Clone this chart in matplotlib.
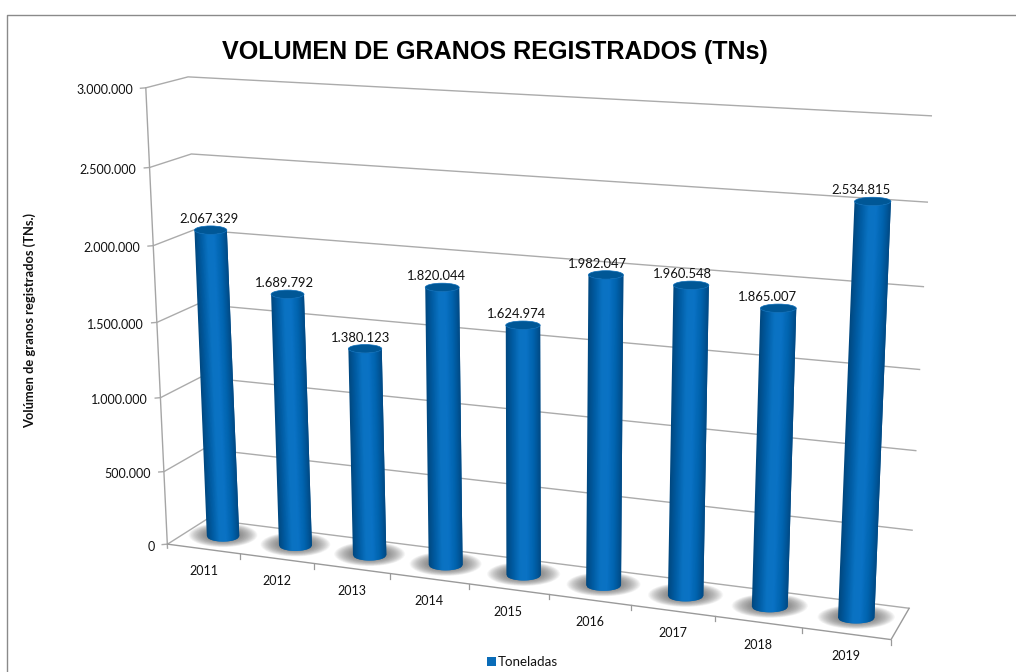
#!/usr/bin/env python3
import numpy as np
import matplotlib
matplotlib.use("Agg")
import matplotlib.pyplot as plt
from matplotlib.collections import PolyCollection
from matplotlib.colors import LinearSegmentedColormap
from matplotlib.patches import Ellipse, Rectangle

YEARS = ["2011", "2012", "2013", "2014", "2015", "2016", "2017", "2018", "2019"]
TONS = [2067329, 1689792, 1380123, 1820044, 1624974, 1982047, 1960548, 1865007, 2534815]
Y_TICKS = [0, 500000, 1000000, 1500000, 2000000, 2500000, 3000000]
Y_MAX = 3000000

BODY_CMAP = LinearSegmentedColormap.from_list(
    "cyl", ["#00477f", "#005ca3", "#0a72c2", "#0a72c4", "#0063ae", "#004a85"]
)


def _fit_projection():
    # calibration of the 3D box: (u along years, v depth, w value) -> picture pixels
    front_left = [(168, 544), (164, 472), (160, 398), (157, 321), (153, 245), (150, 167), (146, 89)]
    back_left = [(207, 519), (204, 449), (201, 378), (198, 304), (194, 229), (191, 154), (188, 77)]
    back_right = [(909, 608), (913, 530), (917, 451), (920, 369), (923, 286), (928, 203), (933, 116)]
    world, pix = [], []
    for k in range(7):
        world += [(0, 0, k / 6), (0, 1, k / 6), (1, 1, k / 6)]
        pix += [front_left[k], back_left[k], back_right[k]]
    world.append((1, 0, 0))
    pix.append((891, 640))
    for k, p in zip([1, 2, 3, 4], [(240, 554), (314, 563), (391, 574), (468, 584)]):
        world.append((k / 9, 0, 0))
        pix.append(p)
    rows, rhs = [], []
    for (u, v, w), (x, y) in zip(world, pix):
        rows.append([u, v, w, 1, 0, 0, 0, 0, -x * u, -x * v, -x * w])
        rhs.append(x)
        rows.append([0, 0, 0, 0, u, v, w, 1, -y * u, -y * v, -y * w])
        rhs.append(y)
    sol = np.linalg.lstsq(np.array(rows, float), np.array(rhs, float), rcond=None)[0]
    return np.append(sol, 1).reshape(3, 4)


PROJ = _fit_projection()


def project(u, v, value=0):
    h = PROJ @ np.array([u, v, value / Y_MAX, 1.0])
    return h[0] / h[2], h[1] / h[2]


def _draw_walls(ax):
    grid = "#ababab"
    for val in Y_TICKS:
        pts = [project(0, 0, val), project(0, 1, val), project(1, 1, val)]
        xs = [pts[0][0] - 6] + [p[0] for p in pts]
        ys = [pts[0][1] + 0.5] + [p[1] for p in pts]
        ax.plot(xs, ys, color=grid, lw=1.0, zorder=1, solid_capstyle="butt")
        ax.text(pts[0][0] - 13, pts[0][1] + 2.5, f"{val:,}".replace(",", "."),
                ha="right", va="center", fontsize=9, color="#111111", family="Lato")

    # front axis and floor outline
    bottom_l, top_l = project(0, 0, 0), project(0, 0, Y_MAX)
    ax.plot([bottom_l[0], top_l[0]], [bottom_l[1] + 4, top_l[1]], color="#a5a5a5", lw=1.0, zorder=1)
    corners = [project(0, 0), project(1, 0), project(1, 1)]
    ax.plot([c[0] for c in corners], [c[1] for c in corners], color="#9a9a9a", lw=1.0, zorder=1)
    for k in range(1, 10):
        x, y = project(k / 9, 0)
        ax.plot([x, x], [y, y + 5], color="#9a9a9a", lw=0.9, zorder=1)


def _draw_shadow(ax, x, y, r):
    for s in np.linspace(1.15, 0.55, 30):
        ax.add_patch(Ellipse((x, y), 2 * r * 1.85 * s, 21 * s, fc="#6a6a6a", ec="none",
                             alpha=0.04, lw=0, zorder=2))


def _draw_bar(ax, i, value):
    u = (i + 0.5) / len(YEARS)
    bx, by = project(u, 0.5, 0)
    tx, ty = project(u, 0.5, value)
    r = 16.2 + 0.25 * i
    ry_b, ry_t = 5.5, 4.2

    _draw_shadow(ax, bx, by - 1, r)

    # strips overlap the next one so no seams show between them
    ts = np.linspace(-1, 1, 41)
    polys, cols = [], []
    for j, a in enumerate(ts[:-1]):
        b = ts[min(j + 2, len(ts) - 1)]
        polys.append([
            (bx + a * r, by + np.sqrt(1 - a * a) * ry_b),
            (bx + b * r, by + np.sqrt(1 - b * b) * ry_b),
            (tx + b * r, ty + np.sqrt(1 - b * b) * ry_t),
            (tx + a * r, ty + np.sqrt(1 - a * a) * ry_t),
        ])
        cols.append(BODY_CMAP((a + ts[j + 1]) / 4 + 0.5))
    ax.add_collection(PolyCollection(polys, facecolors=cols, edgecolors="none", zorder=3))
    ax.add_patch(Ellipse((tx, ty), 2 * r, 2 * ry_t, fc="#005796", ec="#0a6cb8", lw=0.5, zorder=4))
    ax.text(tx - 2 - 1.2 * i, ty - 11, f"{value:,}".replace(",", "."), ha="center", va="center",
            fontsize=9.4, color="#111111", family="Lato", zorder=5)


def main():
    fig = plt.figure(figsize=(10.16, 6.72), dpi=100)
    ax = fig.add_axes([0, 0, 1, 1])
    ax.set_xlim(0, 1016)
    ax.set_ylim(672, 0)
    ax.axis("off")

    # outer chart frame, only top and left fall inside the picture
    ax.plot([7, 7, 1016], [672, 14.5, 14.5], color="#8a8a8a", lw=1.0, zorder=0)

    _draw_walls(ax)
    for i, value in enumerate(TONS):
        _draw_bar(ax, i, value)

    for i, year in enumerate(YEARS):
        x, y = project((i + 0.5) / len(YEARS), 0)
        ax.text(x, y + 22.5, year, ha="center", va="center", fontsize=9, color="#111111", family="Lato")

    ax.text(495, 52, "VOLUMEN DE GRANOS REGISTRADOS (TNs)", ha="center", va="center",
            fontsize=18.1, fontweight="bold", family="Liberation Sans", color="#000000")
    ax.text(30, 320, "Volúmen de granos registrados (TNs.)", rotation=90, ha="center", va="center",
            fontsize=9.3, fontweight="bold", family="Lato", color="#111111")

    ax.add_patch(Rectangle((487, 657), 8.5, 9, fc="#0a6cb8", ec="none", zorder=3))
    ax.text(498, 662.5, "Toneladas", ha="left", va="center", fontsize=9.6, color="#111111", family="Lato")

    fig.savefig("out.png", dpi=100)


if __name__ == "__main__":
    main()
